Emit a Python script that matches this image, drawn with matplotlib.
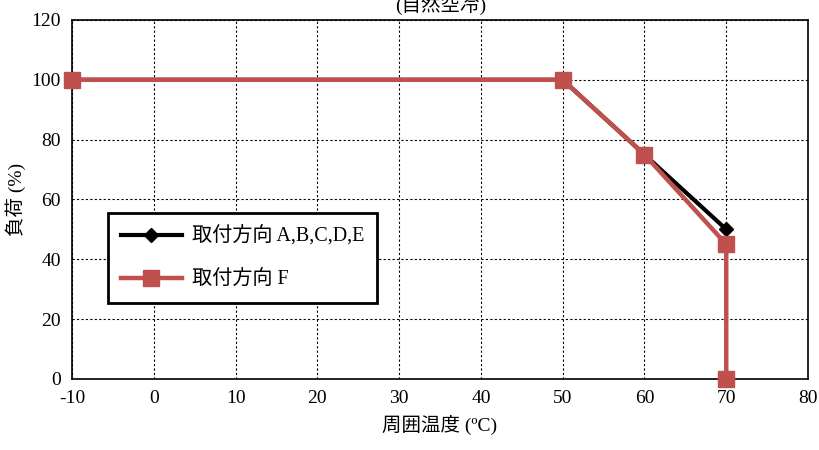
import matplotlib.pyplot as plt

plt.rcParams['font.family'] = ['Liberation Serif', 'Noto Sans CJK JP']
plt.rcParams['axes.unicode_minus'] = False

# data
temp_abcde = [-10, 50, 60, 70]
load_abcde = [100, 100, 75, 50]
temp_f = [-10, 50, 60, 70, 70]
load_f = [100, 100, 75, 45, 0]
xticks = list(range(-10, 81, 10))
yticks = list(range(0, 121, 20))

red = '#C0504D'

fig = plt.figure(figsize=(8.2, 4.5), dpi=100)
ax = fig.add_axes([0.0878, 0.158, 0.8976, 0.7976])

ax.plot(temp_abcde, load_abcde, color='black', lw=3, marker='D',
        markersize=7, label='取付方向 A,B,C,D,E', zorder=3, clip_on=False)
ax.plot(temp_f, load_f, color=red, lw=3.2, marker='s',
        markersize=11, label='取付方向 F', zorder=4, clip_on=False)

ax.set_xlim(-10, 80)
ax.set_ylim(0, 120)
ax.set_xticks(xticks)
ax.set_yticks(yticks)
ax.tick_params(labelsize=14, length=0, pad=8)
ax.grid(True, color='black', linestyle=(0, (2, 2)), linewidth=0.8)
for s in ax.spines.values():
    s.set_linewidth(1.2)

ax.set_xlabel('周囲温度 (ºC)', fontsize=14, labelpad=6)
ax.set_ylabel('負荷 (%)', fontsize=14, labelpad=4)

fig.text(0.537, 0.99, '(自然空冷)', fontsize=14, ha='center', va='center')

leg = ax.legend(loc='upper left', bbox_to_anchor=(0.049, 0.462), fontsize=14.5,
                frameon=True, fancybox=False, framealpha=1, borderpad=0.65,
                labelspacing=1.2, handlelength=3.0, handletextpad=0.5,
                borderaxespad=0)
leg.get_frame().set_edgecolor('black')
leg.get_frame().set_linewidth(2)

fig.savefig('out.png', dpi=100)
